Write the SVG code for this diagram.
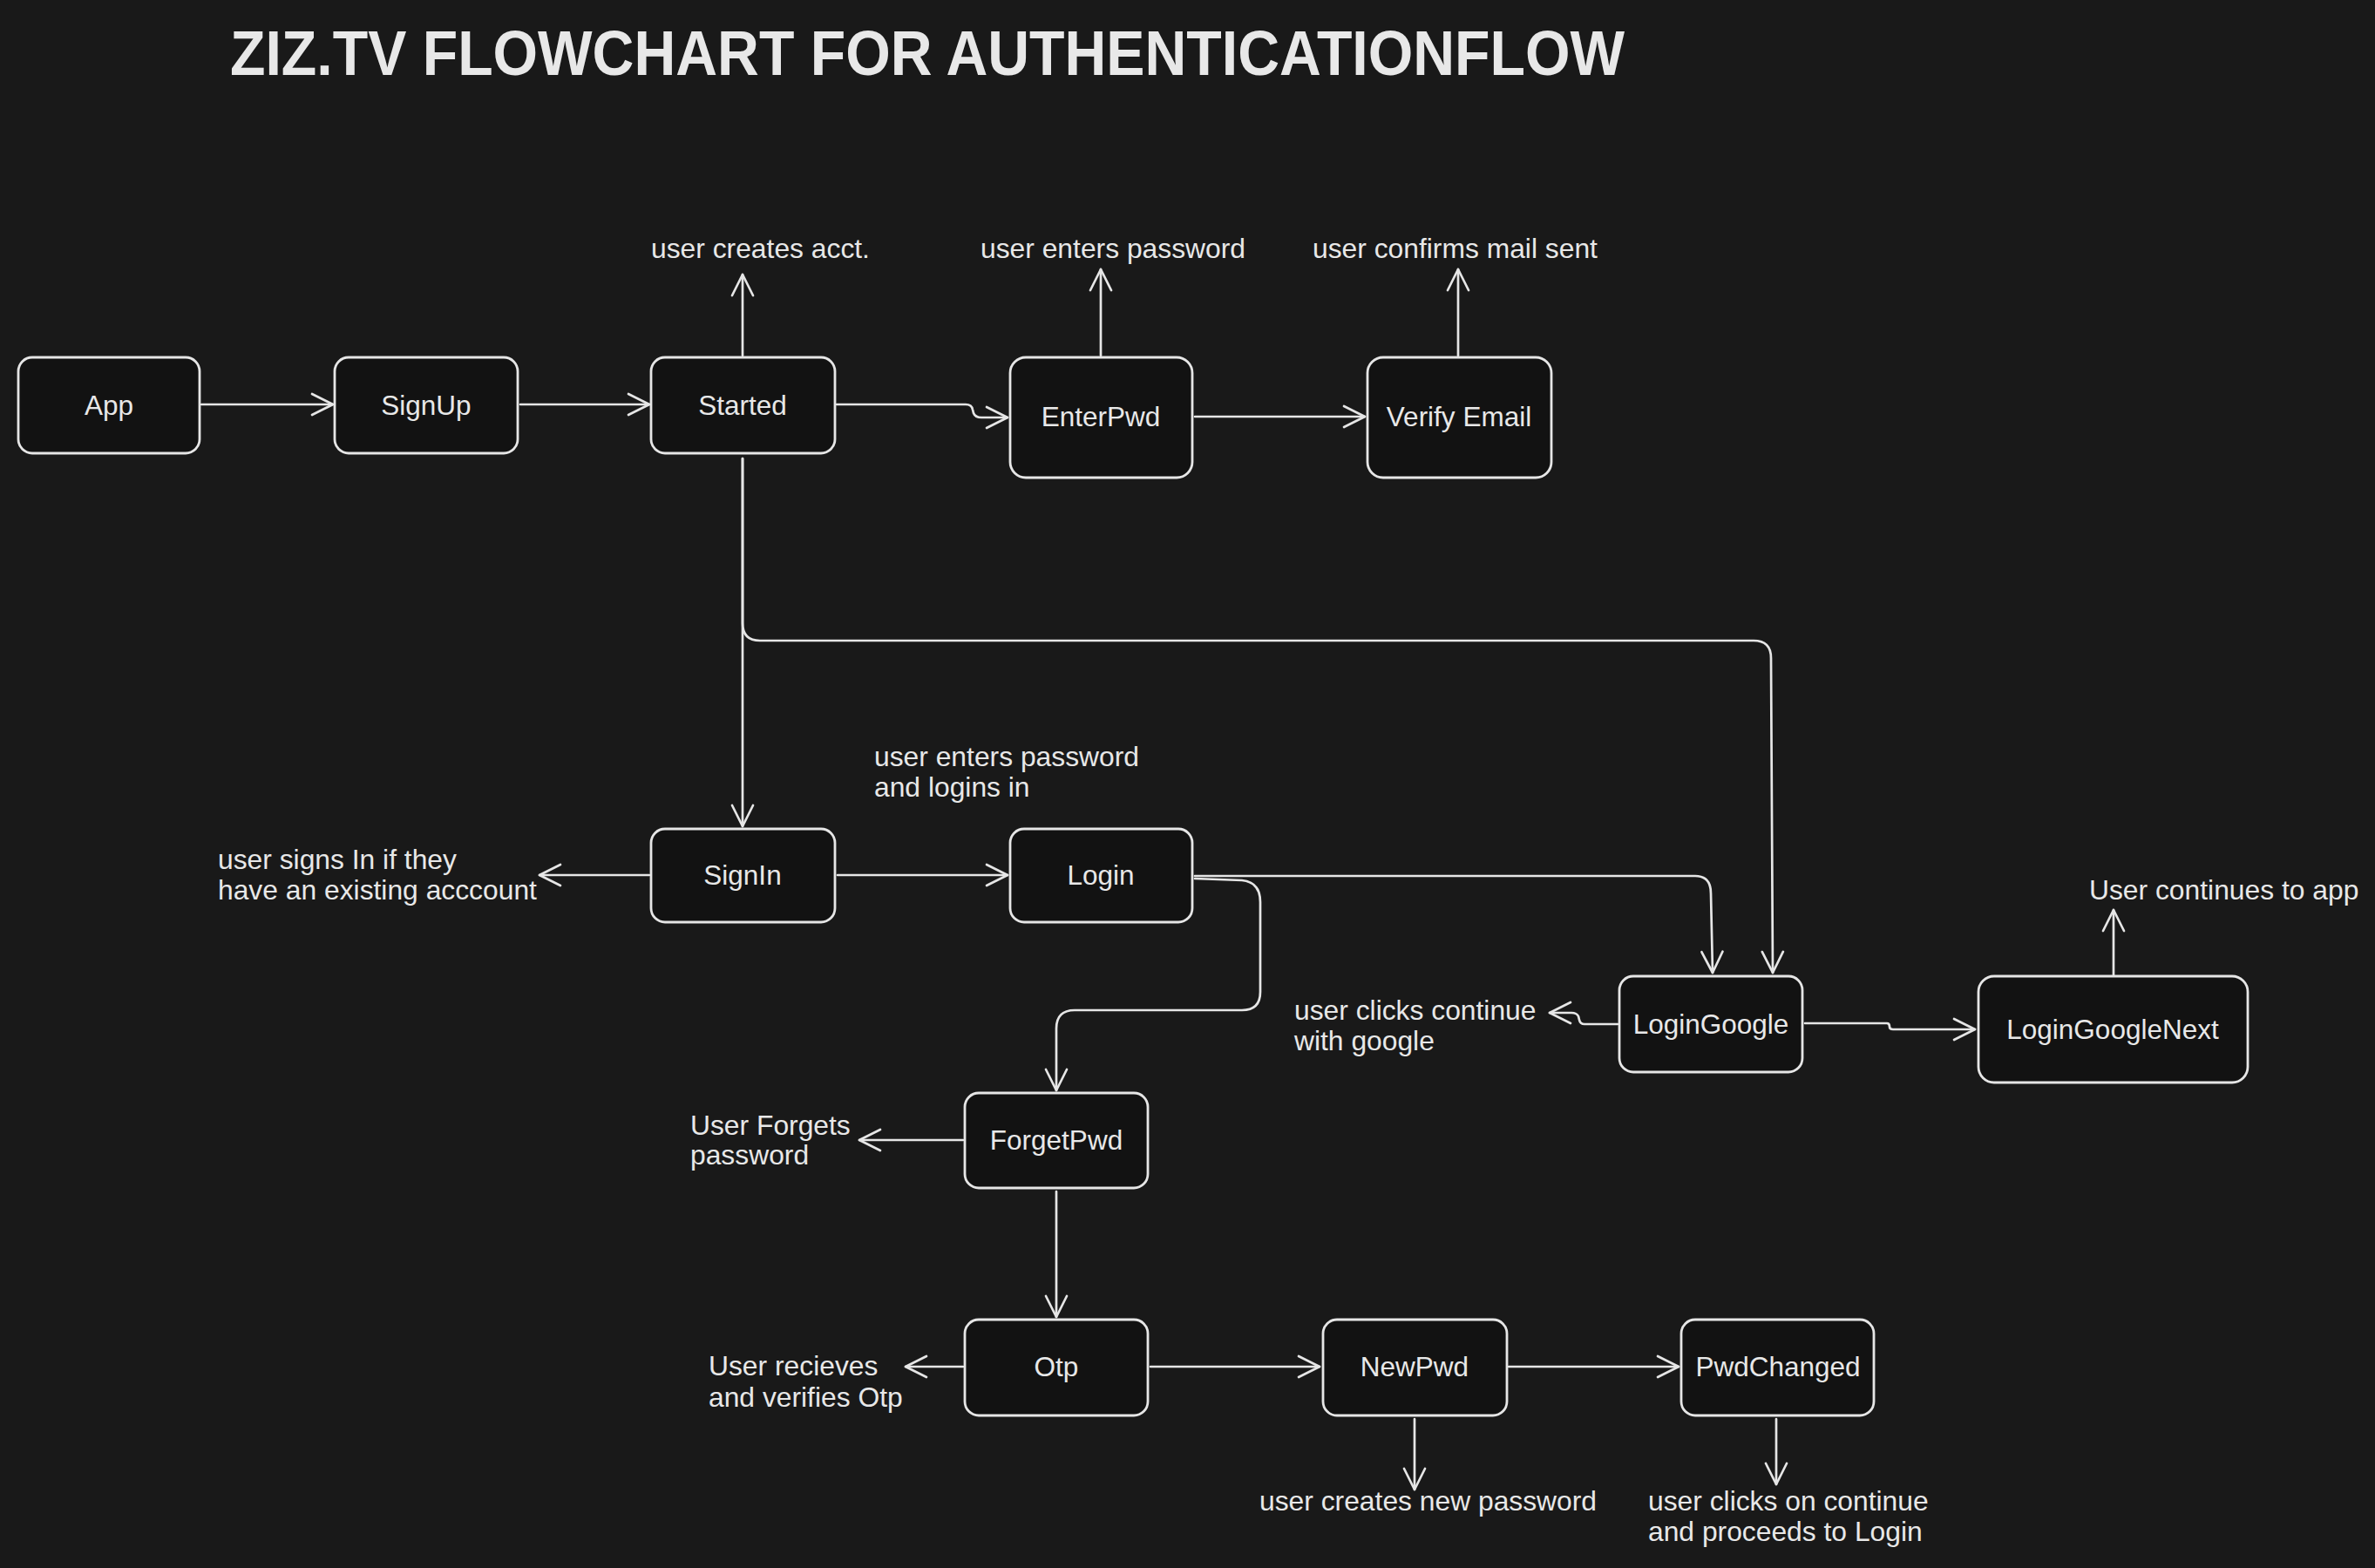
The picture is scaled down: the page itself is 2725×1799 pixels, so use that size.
<svg xmlns="http://www.w3.org/2000/svg" width="2725" height="1799" viewBox="0 0 2725 1799">
<style>
.bg{fill:#191919}
.box{fill:#121212;stroke:#e6e6e6;stroke-width:2.8}
.nl{font-family:"Liberation Sans",Arial,sans-serif;font-size:31.5px;fill:#e8e8e8;text-anchor:middle}
.lb{font-family:"Liberation Sans",Arial,sans-serif;font-size:31.8px;fill:#e8e8e8}
.title{font-family:"Liberation Sans",Arial,sans-serif;font-size:72px;font-weight:bold;fill:#e8e8e8}
.c{fill:none;stroke:#e6e6e6;stroke-width:2.7;stroke-linecap:round;stroke-linejoin:round;marker-end:url(#ah)}
</style>
<defs>
<marker id="ah" markerWidth="30" markerHeight="30" refX="24" refY="12" orient="auto" markerUnits="userSpaceOnUse" overflow="visible">
<path d="M0,0 L24,12 L0,24" fill="none" stroke="#e6e6e6" stroke-width="2.7" stroke-linecap="round" stroke-linejoin="round"/>
</marker>
</defs>
<rect class="bg" x="0" y="0" width="2725" height="1799"/>
<text class="title" x="264" y="86" textLength="1600" lengthAdjust="spacingAndGlyphs">ZIZ.TV FLOWCHART FOR AUTHENTICATIONFLOW</text>

<g id="connectors">
<path class="c" d="M231,464 L382,464"/>
<path class="c" d="M597,464 L745,464"/>
<path class="c" d="M960,464 L1108,464 Q1115,464 1116,470 L1117,474 Q1119,479 1126,479 L1156,479"/>
<path class="c" d="M1371,478 L1566,478"/>
<path class="c" d="M852,408 L852,315"/>
<path class="c" d="M1263,408 L1263,309"/>
<path class="c" d="M1673,408 L1673,309"/>
<path class="c" d="M852,526 L852,948"/>
<path class="c" d="M852,526 L852,715 Q852,735 872,735 L2012,735 Q2032,735 2032,755 L2034,1116"/>
<path class="c" d="M961,1004 L1156,1004"/>
<path class="c" d="M745,1004 L619,1004"/>
<path class="c" d="M1371,1005 L1945,1005 Q1963,1005 1963,1025 L1965,1116"/>
<path class="c" d="M1371,1008 L1425,1010 Q1446,1012 1446,1035 L1446,1138 Q1446,1159 1425,1159 L1233,1159 Q1212,1159 1212,1180 L1212,1251"/>
<path class="c" d="M1856,1175 L1818,1175 Q1813,1175 1812,1170 L1811,1166 Q1809,1162 1803,1162 L1778,1162"/>
<path class="c" d="M2071,1174 L2165,1174 Q2168,1174 2168,1178 Q2168,1181 2172,1181 L2266,1181"/>
<path class="c" d="M2425,1119 L2425,1044"/>
<path class="c" d="M1105,1308 L986,1308"/>
<path class="c" d="M1212,1367 L1212,1511"/>
<path class="c" d="M1105,1568 L1039,1568"/>
<path class="c" d="M1320,1568 L1514,1568"/>
<path class="c" d="M1731,1568 L1926,1568"/>
<path class="c" d="M1623,1628 L1623,1709"/>
<path class="c" d="M2038,1628 L2038,1703"/>
</g>

<g id="labels">
<text class="lb" x="747" y="296">user creates acct.</text>
<text class="lb" x="1125" y="296">user enters password</text>
<text class="lb" x="1506" y="296">user confirms mail sent</text>
<text class="lb" x="1003" y="879">user enters password</text>
<text class="lb" x="1003" y="914">and logins in</text>
<text class="lb" x="250" y="997">user signs In if they</text>
<text class="lb" x="250" y="1032">have an existing acccount</text>
<text class="lb" x="2397" y="1032">User continues to app</text>
<text class="lb" x="1485" y="1170">user clicks continue</text>
<text class="lb" x="1485" y="1205">with google</text>
<text class="lb" x="792" y="1302">User Forgets</text>
<text class="lb" x="792" y="1336">password</text>
<text class="lb" x="813" y="1578">User recieves</text>
<text class="lb" x="813" y="1614">and verifies Otp</text>
<text class="lb" x="1445" y="1733">user creates new password</text>
<text class="lb" x="1891" y="1733">user clicks on continue</text>
<text class="lb" x="1891" y="1768">and proceeds to Login</text>
</g>

<g id="node-app"><rect class="box" x="21" y="410" width="208" height="110" rx="16"/><text class="nl" x="125" y="476">App</text></g>
<g id="node-signup"><rect class="box" x="384" y="410" width="210" height="110" rx="16"/><text class="nl" x="489" y="476">SignUp</text></g>
<g id="node-started"><rect class="box" x="747" y="410" width="211" height="110" rx="16"/><text class="nl" x="852" y="476">Started</text></g>
<g id="node-enterpwd"><rect class="box" x="1159" y="410" width="209" height="138" rx="18"/><text class="nl" x="1263" y="489">EnterPwd</text></g>
<g id="node-verifyemail"><rect class="box" x="1569" y="410" width="211" height="138" rx="18"/><text class="nl" x="1674" y="489">Verify Email</text></g>
<g id="node-signin"><rect class="box" x="747" y="951" width="211" height="107" rx="16"/><text class="nl" x="852" y="1015">SignIn</text></g>
<g id="node-login"><rect class="box" x="1159" y="951" width="209" height="107" rx="16"/><text class="nl" x="1263" y="1015">Login</text></g>
<g id="node-logingoogle"><rect class="box" x="1858" y="1120" width="210" height="110" rx="16"/><text class="nl" x="1963" y="1186">LoginGoogle</text></g>
<g id="node-logingooglenext"><rect class="box" x="2270" y="1120" width="309" height="122" rx="18"/><text class="nl" x="2424" y="1192">LoginGoogleNext</text></g>
<g id="node-forgetpwd"><rect class="box" x="1107" y="1254" width="210" height="109" rx="16"/><text class="nl" x="1212" y="1319">ForgetPwd</text></g>
<g id="node-otp"><rect class="box" x="1107" y="1514" width="210" height="110" rx="16"/><text class="nl" x="1212" y="1579">Otp</text></g>
<g id="node-newpwd"><rect class="box" x="1518" y="1514" width="211" height="110" rx="16"/><text class="nl" x="1623" y="1579">NewPwd</text></g>
<g id="node-pwdchanged"><rect class="box" x="1929" y="1514" width="221" height="110" rx="16"/><text class="nl" x="2040" y="1579">PwdChanged</text></g>
</svg>
